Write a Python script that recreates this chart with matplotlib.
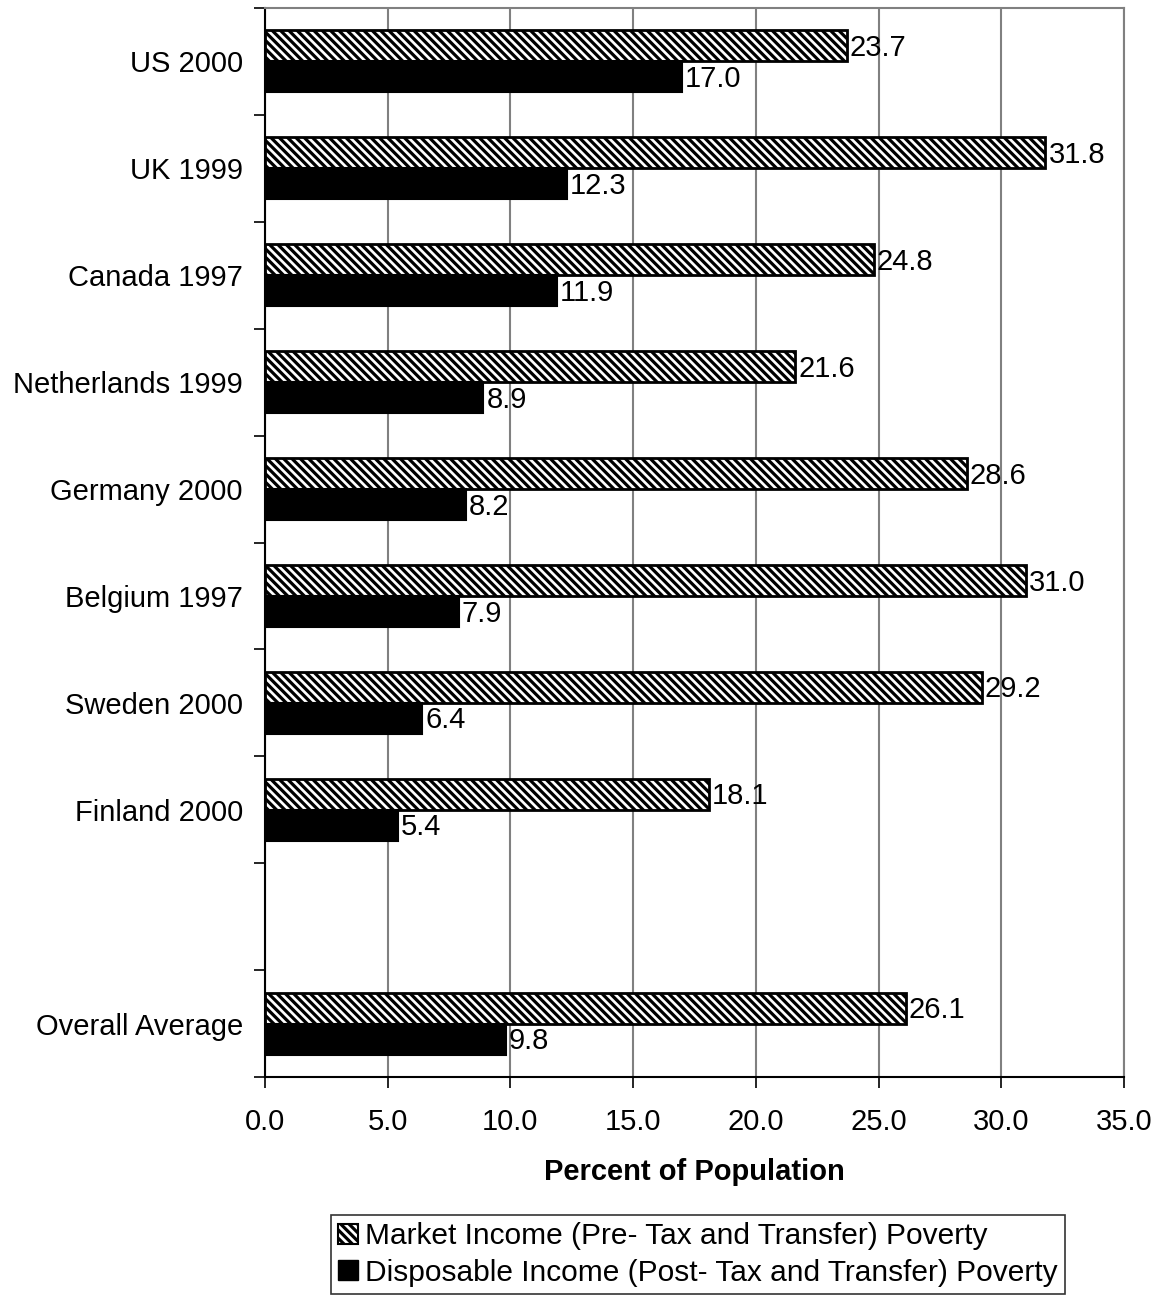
import matplotlib
matplotlib.use("Agg")
import matplotlib.pyplot as plt
from matplotlib.patches import Patch
import numpy as np

plt.rcParams['font.family'] = ['Liberation Sans', 'DejaVu Sans']
plt.rcParams['hatch.linewidth'] = 2.3

categories = ["US 2000", "UK 1999", "Canada 1997", "Netherlands 1999",
              "Germany 2000", "Belgium 1997", "Sweden 2000", "Finland 2000",
              "", "Overall Average"]
market_income = [23.7, 31.8, 24.8, 21.6, 28.6, 31.0, 29.2, 18.1, None, 26.1]
disposable_income = [17.0, 12.3, 11.9, 8.9, 8.2, 7.9, 6.4, 5.4, None, 9.8]
x_ticks = [0, 5, 10, 15, 20, 25, 30, 35]
series_names = ["Market Income (Pre- Tax and Transfer) Poverty",
                "Disposable Income (Post- Tax and Transfer) Poverty"]

W, H = 1158, 1297
fig = plt.figure(figsize=(W / 100, H / 100), dpi=100)
ax = fig.add_axes([265 / W, 1 - 1077 / H, (1124 - 265) / W, (1077 - 8) / H])

bar_h = 0.29
fs = 21

for i, (m, d) in enumerate(zip(market_income, disposable_income)):
    if m is None:
        continue
    ax.barh(i - bar_h / 2, m, height=bar_h, color='white', edgecolor='black',
            hatch='\\\\\\\\', linewidth=2, zorder=3)
    ax.barh(i + bar_h / 2, d, height=bar_h, color='black', edgecolor='black',
            linewidth=1.5, zorder=3)
    ax.text(m + 0.12, i - bar_h / 2 + 0.02, f"{m:.1f}", va='center', ha='left',
            fontsize=fs, zorder=4)
    ax.text(d + 0.12, i + bar_h / 2 + 0.02, f"{d:.1f}", va='center', ha='left',
            fontsize=fs, zorder=4)

n = len(categories)
ax.set_ylim(n - 0.5, -0.5)
ax.set_xlim(0, 35)
ax.set_yticks(range(n))
ax.set_yticklabels(categories, fontsize=fs)
ax.set_yticks(np.arange(-0.5, n, 1.0), minor=True)
ax.tick_params(axis='y', which='major', length=0, pad=16)
ax.tick_params(axis='y', which='minor', length=8, width=1.2, color='black')

ax.set_xticks(x_ticks)
ax.set_xticklabels([f"{v:.1f}" for v in x_ticks], fontsize=fs)
ax.tick_params(axis='x', which='major', length=8, width=1.2, pad=14, color='black')

ax.grid(axis='x', color='#808080', linewidth=1.5, zorder=0)
ax.set_axisbelow(True)
for side in ('top', 'right'):
    ax.spines[side].set_color('#808080')
    ax.spines[side].set_linewidth(1.5)
for side in ('left', 'bottom'):
    ax.spines[side].set_color('black')
    ax.spines[side].set_linewidth(1.5)

ax.set_xlabel("Percent of Population", fontsize=fs, fontweight='bold', labelpad=16)

handles = [Patch(facecolor='white', edgecolor='black', hatch='\\\\\\\\', linewidth=1.5),
           Patch(facecolor='black', edgecolor='black')]
leg = fig.legend(handles, series_names, loc='upper left',
                 bbox_to_anchor=(331 / W, 1 - 1215 / H), fontsize=21.5,
                 frameon=True, fancybox=False, shadow=False,
                 handlelength=0.65, handleheight=0.65, handletextpad=0.25,
                 labelspacing=0.28, borderpad=0.25, borderaxespad=0)
leg.get_frame().set_edgecolor('black')
leg.get_frame().set_linewidth(1.2)

fig.savefig("out.png", dpi=100)
